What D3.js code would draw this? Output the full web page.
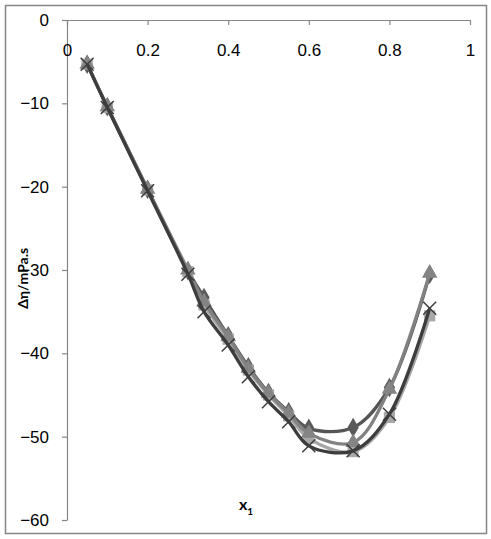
<!DOCTYPE html>
<html>
<head>
<meta charset="utf-8">
<script src="https://cdn.jsdelivr.net/npm/d3@7"></script>
<style>
  body { margin: 0; background: #fff; }
  svg { font-family: Lato, "Liberation Sans", sans-serif; }
  .axis path, .axis line { stroke: #868686; stroke-width: 1.2; }
  .axis text { font-size: 17px; fill: #000; }
</style>
</head>
<body>
<svg id="chart" width="491" height="539"></svg>
<script>
// mole fraction x1
const moleFractions = [0.05, 0.1, 0.2, 0.3, 0.34, 0.4, 0.45, 0.5, 0.55, 0.6, 0.71, 0.8, 0.9]

// viscosity deviation per series (mPa.s)
const diamondValues = [-5.3, -10.4, -20.3, -30.1, -33.3, -37.9, -41.6, -44.7, -47.0, -49.0, -48.9, -44.1, -30.5]
const squareValues = [-5.3, -10.5, -20.4, -30.2, -34.2, -38.3, -42.0, -45.0, -47.5, -50.2, -51.8, -47.7, -35.5]
const triangleValues = [-5.3, -10.4, -20.3, -30.0, -33.8, -38.0, -41.8, -44.8, -47.2, -49.6, -50.7, -44.3, -30.4]
const crossValues = [-5.3, -10.5, -20.5, -30.5, -35.0, -39.0, -42.8, -45.8, -48.2, -51.1, -51.7, -47.3, -34.6]

const xTicks = [0, 0.2, 0.4, 0.6, 0.8, 1]
const yTicks = [0, -10, -20, -30, -40, -50, -60]

const series = [
  { name: 'diamond', values: diamondValues, line: '#555555', fill: '#5a5a5a', symbol: d3.symbolDiamond, size: 110 },
  { name: 'square', values: squareValues, line: '#a6a6a6', fill: '#a8a8a8', symbol: d3.symbolSquare, size: 125 },
  { name: 'triangle', values: triangleValues, line: '#828282', fill: '#848484', symbol: d3.symbolTriangle, size: 105 },
  { name: 'cross', values: crossValues, line: '#3d3d3d', fill: '#3d3d3d', symbol: null, size: 0 }
]

const svg = d3.select('#chart')
const margin = { top: 20, right: 21, bottom: 19, left: 67 }
const width = 491
const height = 539

svg.append('rect')
  .attr('x', 5.5).attr('y', 5.5)
  .attr('width', 481).attr('height', 528)
  .attr('fill', '#fff')
  .attr('stroke', '#868686')
  .attr('stroke-width', 1.5)

const x = d3.scaleLinear().domain([0, 1]).range([margin.left, width - margin.right])
const y = d3.scaleLinear().domain([0, -60]).range([margin.top, height - margin.bottom])

// y axis on the left, ticks outward
svg.append('g')
  .attr('class', 'axis')
  .attr('transform', `translate(${margin.left},0)`)
  .call(d3.axisLeft(y).tickValues(yTicks).tickSize(5).tickSizeOuter(0).tickPadding(13).tickFormat(d3.format('d')))

// x axis sits on y = 0 (top), ticks pointing down, labels below
svg.append('g')
  .attr('class', 'axis')
  .attr('transform', `translate(0,${y(0)})`)
  .call(d3.axisBottom(x).tickValues(xTicks).tickSize(5).tickSizeOuter(0).tickPadding(19)
    .tickFormat(d => d === 0 || d === 1 ? String(d) : d3.format('.1f')(d)))

const lineGen = d3.line()
  .x((d, i) => x(moleFractions[i]))
  .y(d => y(d))
  .curve(d3.curveCatmullRom.alpha(0.5))

const plot = svg.append('g')

series.forEach(s => {
  plot.append('path')
    .datum(s.values)
    .attr('fill', 'none')
    .attr('stroke', s.line)
    .attr('stroke-width', 3.3)
    .attr('stroke-linejoin', 'round')
    .attr('d', lineGen)

  const marks = plot.append('g')
    .selectAll('g')
    .data(s.values)
    .join('g')
    .attr('transform', (d, i) => `translate(${x(moleFractions[i])},${y(d)})`)

  if (s.symbol) {
    marks.append('path')
      .attr('d', d3.symbol().type(s.symbol).size(s.size))
      .attr('fill', s.fill)
  } else {
    marks.append('path')
      .attr('d', 'M-6.5,-6.5L6.5,6.5M-6.5,6.5L6.5,-6.5')
      .attr('stroke', s.fill)
      .attr('stroke-width', 1.5)
  }
})

svg.append('text')
  .attr('transform', `translate(28,${y(-31)}) rotate(-90)`)
  .attr('text-anchor', 'middle')
  .attr('font-size', 14)
  .attr('font-weight', 'bold')
  .text('Δη/mPa.s')

const xLabel = svg.append('text')
  .attr('x', 239)
  .attr('y', 510)
  .attr('font-size', 16)
  .attr('font-weight', 'bold')
xLabel.append('tspan').text('x')
xLabel.append('tspan').attr('font-size', 10).attr('dy', 5).text('1')
</script>
</body>
</html>
